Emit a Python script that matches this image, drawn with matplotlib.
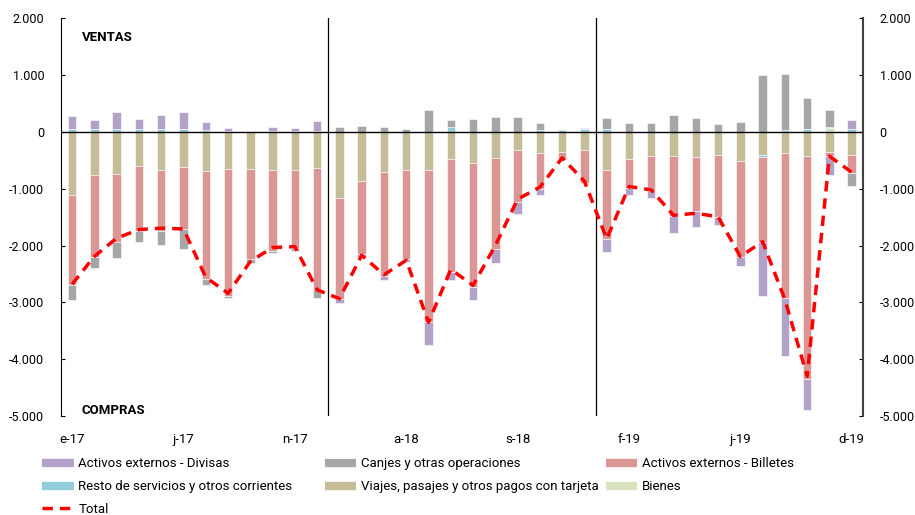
import numpy as np
import matplotlib
matplotlib.use("Agg")
import matplotlib.pyplot as plt
from matplotlib.lines import Line2D
from matplotlib.ticker import FuncFormatter

plt.rcParams['font.family'] = ['Roboto', 'DejaVu Sans']

# Datos (millones de USD), ene-17 a dic-19
meses = ["e-17", "f-17", "m-17", "a-17", "m-17", "j-17", "j-17", "a-17", "s-17", "o-17", "n-17", "d-17",
         "e-18", "f-18", "m-18", "a-18", "m-18", "j-18", "j-18", "a-18", "s-18", "o-18", "n-18", "d-18",
         "e-19", "f-19", "m-19", "a-19", "m-19", "j-19", "j-19", "a-19", "s-19", "o-19", "n-19", "d-19"]

bienes = [0, 0, 0, 0, 0, 0, 0, 0, 0, 0, 0, 0,
          0, 0, 0, 0, 0, 0, 0, 0, 0, 0, 0, 0,
          0, 0, 0, 0, 0, 0, 0, 0, 0, 0, 58, 0]
viajes = [-1105, -766, -749, -602, -667, -620, -684, -649, -649, -678, -678, -632,
          -1170, -860, -713, -678, -678, -480, -550, -468, -322, -374, -357, -322,
          -667, -485, -427, -427, -444, -409, -509, -415, -368, -427, -363, -404]
resto = [45, 40, 40, 40, 40, 40, 30, 15, 18, 13, 15, 17,
         0, 0, 0, 0, 0, 88, 0, 0, 0, 35, 27, 45,
         40, 0, 0, 0, 0, 0, 0, -23, 29, 47, 23, 47]
billetes = [-1590, -1444, -1187, -1146, -1082, -1088, -1901, -2240, -1596, -1421, -1368, -2129,
            -1778, -1298, -1825, -1567, -2667, -1982, -2175, -1602, -906, -632, -135, -579,
            -1222, -509, -614, -1058, -942, -1094, -1690, -1509, -2561, -3918, -70, -322]
canjes = [-263, -193, -287, -199, -246, -351, -111, -35, -64, -41, -53, -170,
          88, 105, 88, 53, 380, 111, 216, 251, 251, 117, 20, 0,
          200, 146, 146, 292, 240, 129, 164, 1000, 994, 549, 293, -234]
divisas = [235, 160, 305, 188, 258, 305, 150, 55, 0, 75, 55, 170,
           -70, -47, -76, -47, -409, -152, -234, -234, -216, -99, 0, 25,
           -228, -111, -129, -287, -287, -129, -164, -947, -1006, -550, -322, 167]
total = [-2680, -2190, -1870, -1720, -1695, -1710, -2560, -2840, -2280, -2035, -2020, -2780,
         -2935, -2170, -2515, -2260, -3350, -2420, -2700, -2000, -1185, -975, -460, -870,
         -1885, -962, -1023, -1470, -1433, -1495, -2195, -1930, -2950, -4298, -430, -712]

series = [
    ("Bienes", bienes, "#d7e4bd"),
    ("Viajes, pasajes y otros pagos con tarjeta", viajes, "#c4bd97"),
    ("Resto de servicios y otros corrientes", resto, "#92cddc"),
    ("Activos externos - Billetes", billetes, "#d99694"),
    ("Canjes y otras operaciones", canjes, "#a6a6a6"),
    ("Activos externos - Divisas", divisas, "#b3a2c7"),
]

fig = plt.figure(figsize=(9.15, 5.15), dpi=100)
ax = fig.add_axes([0.0667, 0.192, 0.8763, 0.773])

x = np.arange(len(meses))
pos = np.zeros(len(meses))
neg = np.zeros(len(meses))
for nombre, vals, color in series:
    v = np.array(vals, dtype=float)
    base = np.where(v >= 0, pos, neg)
    ax.bar(x, v, 0.38, bottom=base, color=color, edgecolor="white", linewidth=0.4, zorder=2)
    pos += np.where(v >= 0, v, 0)
    neg += np.where(v < 0, v, 0)

ax.plot(x, total, color="red", lw=2.5, dashes=(3, 2), zorder=4)

ax.axhline(0, color="black", lw=1, zorder=3)
for xv in (11.5, 23.5):
    ax.axvline(xv, color="black", lw=0.9, zorder=3)

ax.set_xlim(-0.5, 35.5)
ax.set_ylim(-5000, 2000)
ax.set_yticks(np.arange(-5000, 2001, 1000))
fmt = FuncFormatter(lambda v, p: f"{v:,.0f}".replace(",", "."))
ax.yaxis.set_major_formatter(fmt)
ax.tick_params(axis="y", direction="in", length=3, pad=12, labelsize=9)

ax.set_xticks(x[::5])
ax.set_xticklabels(meses[::5])
ax.tick_params(axis="x", length=0, pad=12, labelsize=9.5)

for s in ("top", "bottom", "right"):
    ax.spines[s].set_visible(False)
ax.spines["left"].set_color("black")

ax2 = ax.twinx()
ax2.set_ylim(-5000, 2000)
ax2.set_yticks(np.arange(-5000, 2001, 1000))
ax2.yaxis.set_major_formatter(fmt)
ax2.tick_params(axis="y", direction="in", length=3, pad=12, labelsize=9)
for s in ("top", "bottom", "left"):
    ax2.spines[s].set_visible(False)
ax2.spines["right"].set_color("#404040")
ax2.spines["right"].set_linewidth(1.5)

ax.text(0.026, 0.952, "VENTAS", transform=ax.transAxes, fontsize=9.5,
        fontweight="bold", va="center")
ax.text(0.026, 0.015, "COMPRAS", transform=ax.transAxes, fontsize=9.5,
        fontweight="bold", va="center")

# leyenda en tres columnas
colores = {n: c for n, _, c in series}
def h(n):
    return Line2D([], [], color=colores[n], lw=6, solid_capstyle="butt")

columnas = [
    ([h("Activos externos - Divisas"), h("Resto de servicios y otros corrientes"),
      Line2D([], [], color="red", lw=2.5, dashes=(3, 2))],
     ["Activos externos - Divisas", "Resto de servicios y otros corrientes", "Total"], 0.046),
    ([h("Canjes y otras operaciones"), h("Viajes, pasajes y otros pagos con tarjeta")],
     ["Canjes y otras operaciones", "Viajes, pasajes y otros pagos con tarjeta"], 0.355),
    ([h("Activos externos - Billetes"), h("Bienes")],
     ["Activos externos - Billetes", "Bienes"], 0.662),
]
for hs, ls, xl in columnas:
    fig.legend(hs, ls, loc="upper left", bbox_to_anchor=(xl, 0.112), frameon=False,
               fontsize=9.5, handlelength=2.4, handletextpad=0.35, labelspacing=0.75,
               borderaxespad=0, borderpad=0)

fig.savefig("out.png", dpi=100)
